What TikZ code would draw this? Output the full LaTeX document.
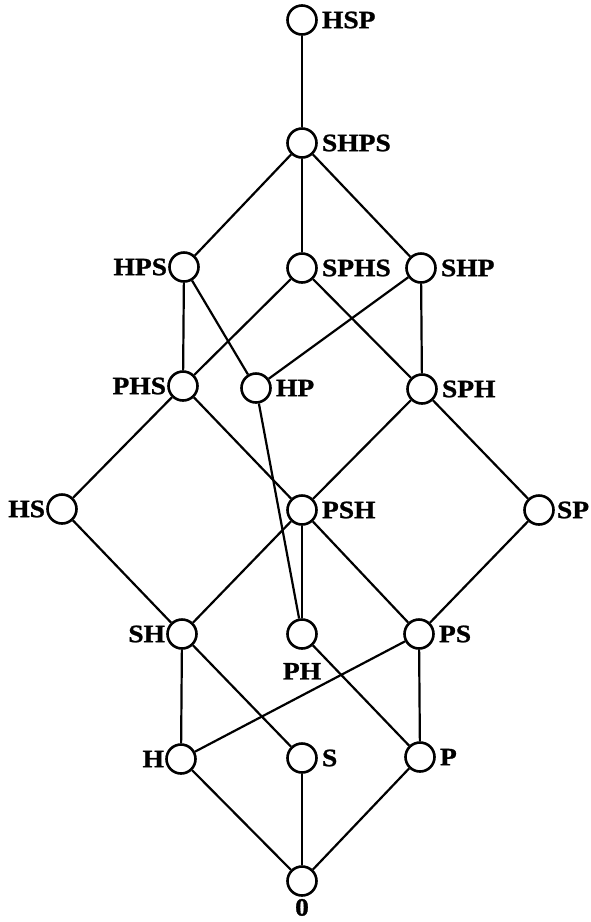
\documentclass[tikz,border=0pt]{standalone}
\usepackage{fontspec}
\newfontfamily\lbl{Liberation Serif Bold}[FakeStretch=1.1,FakeBold=1]
\begin{document}
\begin{tikzpicture}[x=1pt,y=-1pt,
  v/.style={circle,draw,line width=2.6pt,minimum size=29pt,inner sep=0pt},
  every label/.style={font=\lbl\fontsize{25}{25}\selectfont,inner sep=0pt},
  lr/.style={label={[label distance=4pt]right:#1}},
  ll/.style={label={[label distance=1pt]left:#1}},
  edge/.style={line width=2.2pt}]
\useasboundingbox (0,0) rectangle (590,922);
\node[v,lr=HSP]  (HSP)  at (302,20) {};
\node[v,lr=SHPS] (SHPS) at (302,143) {};
\node[v,ll=HPS]  (HPS)  at (184,267) {};
\node[v,lr=SPHS] (SPHS) at (302,268) {};
\node[v,lr=SHP]  (SHP)  at (421,268) {};
\node[v,ll=PHS]  (PHS)  at (183,386) {};
\node[v,lr=HP]   (HP)   at (256,388) {};
\node[v,lr=SPH]  (SPH)  at (422,389) {};
\node[v,ll=HS]   (HS)   at (62,509) {};
\node[v,lr=PSH]  (PSH)  at (302,510) {};
\node[v,label={[label distance=2pt]right:SP}] (SP) at (539,510) {};
\node[v,ll=SH]   (SH)   at (182,634) {};
\node[v,label={[label distance=13pt]below:PH}] (PH) at (302,634) {};
\node[v,lr=PS]   (PS)   at (419,634) {};
\node[v,ll=H]    (H)    at (181,759) {};
\node[v,lr=S]    (S)    at (302,758) {};
\node[v,lr=P]    (P)    at (420,757) {};
\node[v,label={[label distance=2pt]below:0}] (Z) at (302,881) {};
\draw[edge] (HSP) -- (SHPS);
\draw[edge] (SHPS) -- (HPS);
\draw[edge] (SHPS) -- (SPHS);
\draw[edge] (SHPS) -- (SHP);
\draw[edge] (HPS) -- (PHS);
\draw[edge] (HPS) -- (HP);
\draw[edge] (SPHS) -- (PHS);
\draw[edge] (SPHS) -- (SPH);
\draw[edge] (SHP) -- (HP);
\draw[edge] (SHP) -- (SPH);
\draw[edge] (PHS) -- (HS);
\draw[edge] (PHS) -- (PSH);
\draw[edge] (HP) -- (PH);
\draw[edge] (SPH) -- (PSH);
\draw[edge] (SPH) -- (SP);
\draw[edge] (HS) -- (SH);
\draw[edge] (PSH) -- (SH);
\draw[edge] (PSH) -- (PH);
\draw[edge] (PSH) -- (PS);
\draw[edge] (SP) -- (PS);
\draw[edge] (SH) -- (H);
\draw[edge] (SH) -- (S);
\draw[edge] (PH) -- (P);
\draw[edge] (PS) -- (H);
\draw[edge] (PS) -- (P);
\draw[edge] (H) -- (Z);
\draw[edge] (S) -- (Z);
\draw[edge] (P) -- (Z);
\end{tikzpicture}
\end{document}
